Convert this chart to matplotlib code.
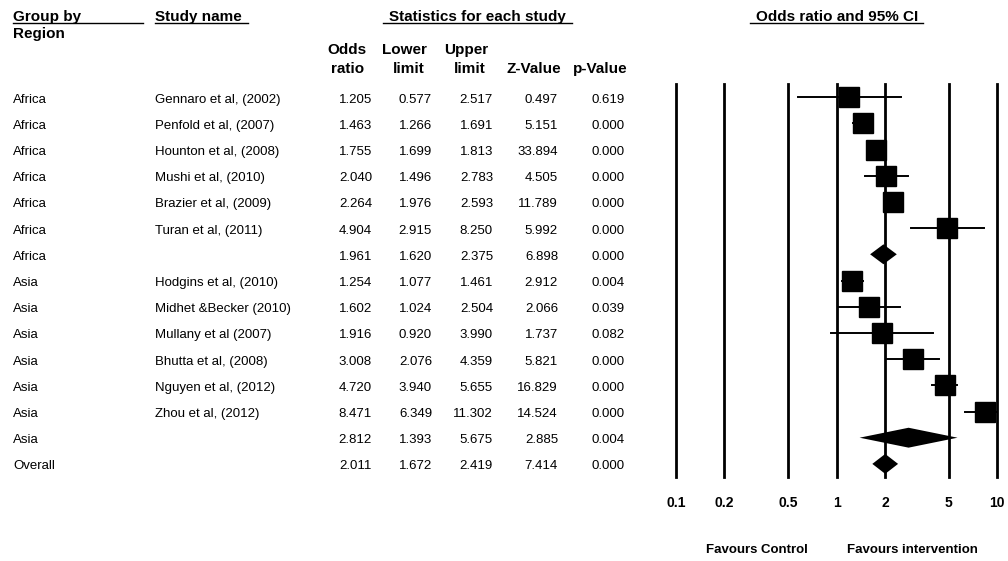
import numpy as np
import matplotlib
matplotlib.use("Agg")
import matplotlib.pyplot as plt
from matplotlib.transforms import blended_transform_factory

# ── Data ──────────────────────────────────────────────────────────────────────
regions = ["Africa"] * 7 + ["Asia"] * 7 + ["Overall"]
studies = [
    "Gennaro et al, (2002)", "Penfold et al, (2007)", "Hounton et al, (2008)",
    "Mushi et al, (2010)", "Brazier et al, (2009)", "Turan et al, (2011)", "",
    "Hodgins et al, (2010)", "Midhet &Becker (2010)", "Mullany et al (2007)",
    "Bhutta et al, (2008)", "Nguyen et al, (2012)", "Zhou et al, (2012)", "",
    "",
]
odds  = [1.205, 1.463, 1.755, 2.040, 2.264, 4.904, 1.961,
         1.254, 1.602, 1.916, 3.008, 4.720, 8.471, 2.812, 2.011]
lower = [0.577, 1.266, 1.699, 1.496, 1.976, 2.915, 1.620,
         1.077, 1.024, 0.920, 2.076, 3.940, 6.349, 1.393, 1.672]
upper = [2.517, 1.691, 1.813, 2.783, 2.593, 8.250, 2.375,
         1.461, 2.504, 3.990, 4.359, 5.655, 11.302, 5.675, 2.419]
zval  = [0.497, 5.151, 33.894, 4.505, 11.789, 5.992, 6.898,
         2.912, 2.066, 1.737, 5.821, 16.829, 14.524, 2.885, 7.414]
pval  = [0.619, 0.000, 0.000, 0.000, 0.000, 0.000, 0.000,
         0.004, 0.039, 0.082, 0.000, 0.000, 0.000, 0.004, 0.000]
is_summary = [False] * 6 + [True] + [False] * 6 + [True, True]

ticks = [0.1, 0.2, 0.5, 1, 2, 5, 10]
tick_labels = ["0.1", "0.2", "0.5", "1", "2", "5", "10"]

BODY = ["Liberation Sans Narrow", "Liberation Sans", "DejaVu Sans"]
HEAD = ["Liberation Sans", "DejaVu Sans"]

W, H = 1008, 561
fig = plt.figure(figsize=(W / 100, H / 100), dpi=100)

# background axes in pixel coordinates for the table text
bg = fig.add_axes([0, 0, 1, 1])
bg.set_xlim(0, W)
bg.set_ylim(H, 0)
bg.axis("off")

# forest plot axes
x0, x1, y0, y1 = 676, 997, 84, 477
ax = fig.add_axes([x0 / W, 1 - y1 / H, (x1 - x0) / W, (y1 - y0) / H])
n = len(odds)
ax.set_xscale("log")
ax.set_xlim(0.1, 10)
ax.set_ylim(n - 0.5, -0.5)
for s in ax.spines.values():
    s.set_visible(False)
ax.set_yticks([])
ax.set_xticks(ticks)
ax.set_xticklabels(tick_labels, fontsize=10, fontweight="bold", family=HEAD)
ax.xaxis.set_minor_locator(plt.NullLocator())
ax.tick_params(axis="x", length=0, pad=14)

# reference lines (not clipped so the edge ones keep full width)
for t in ticks:
    ax.axvline(t, color="black", lw=2.0, zorder=1, clip_on=False)

for i in range(n):
    if is_summary[i]:
        h = 0.38
        ax.fill([lower[i], odds[i], upper[i], odds[i]],
                [i, i - h, i, i + h], color="black", lw=0, zorder=3)
    else:
        ax.plot([lower[i], upper[i]], [i, i], color="black", lw=1.4, zorder=2)
        ax.plot([odds[i]], [i], marker="s", ms=14.4, color="black",
                mec="black", zorder=3)

# ── Table text ────────────────────────────────────────────────────────────────
tr = blended_transform_factory(bg.transData, ax.transData)
col_right = [372, 432, 493, 558, 625]
for i in range(n):
    kw = dict(transform=tr, va="center_baseline", fontsize=9.5, family=BODY)
    bg.text(13, i + 0.04, regions[i], ha="left", **kw)
    bg.text(155, i + 0.04, studies[i], ha="left", **kw)
    vals = [odds[i], lower[i], upper[i], zval[i], pval[i]]
    for x, v in zip(col_right, vals):
        bg.text(x, i + 0.04, f"{v:.3f}", ha="right", **kw)

hk = dict(fontsize=11, fontweight="bold", family=HEAD, va="center_baseline")
bg.text(13, 15, "Group by", ha="left", **hk)
bg.text(13, 32, "Region", ha="left", **hk)
bg.text(155, 15, "Study name", ha="left", **hk)
bg.text(477, 15, "Statistics for each study", ha="center", **hk)
bg.text(837, 15, "Odds ratio and 95% CI", ha="center", **hk)
bg.plot([13, 143], [23, 23], color="black", lw=1)
bg.plot([155, 248], [23, 23], color="black", lw=1)
bg.plot([383, 572], [23, 23], color="black", lw=1)
bg.plot([750, 923], [23, 23], color="black", lw=1)

sub = [("Odds", "ratio", 366), ("Lower", "limit", 427), ("Upper", "limit", 488)]
for top, bot, x in sub:
    bg.text(x, 48, top, ha="right", **hk)
    bg.text(x - 2, 67, bot, ha="right", **hk)
bg.text(561, 67, "Z-Value", ha="right", **hk)
bg.text(628, 67, "p-Value", ha="right", **hk)

fk = dict(fontsize=9.5, fontweight="bold", family=HEAD, va="center", ha="center")
bg.text(757, 550, "Favours Control", **fk)
bg.text(912, 550, "Favours intervention", **fk)

fig.savefig("out.png", dpi=100)
